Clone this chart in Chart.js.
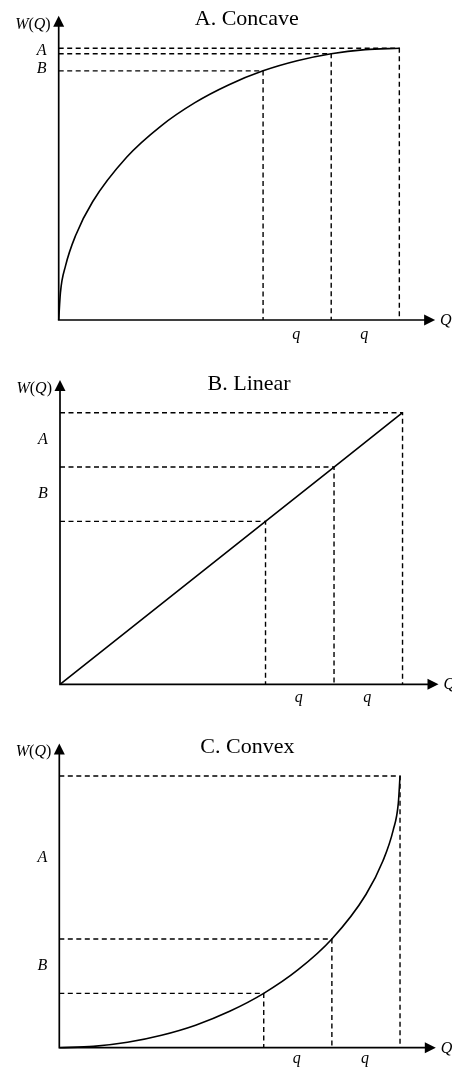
<!DOCTYPE html>
<html>
<head>
<meta charset="utf-8">
<title>W(Q) shapes</title>
<script src="https://cdn.jsdelivr.net/npm/chart.js@4.4.1/dist/chart.umd.min.js"></script>
<style>
  body { margin: 0; background: #fff; }
  .panel { position: absolute; left: 0; }
</style>
</head>
<body>
<canvas id="chartA" class="panel" width="452" height="356" style="top:0px"></canvas>
<canvas id="chartB" class="panel" width="452" height="356" style="top:356px"></canvas>
<canvas id="chartC" class="panel" width="452" height="356" style="top:712px"></canvas>
<script>
// Q values where the dashed guides are drawn
var qMarks = [6, 8, 10];

// A. Concave
var concaveQ = [0, 0.05, 0.2, 0.5, 1, 2, 3, 4, 5, 6, 7, 8, 9, 10];
var concaveW = [0, 1.0, 1.99, 3.12, 4.36, 6.0, 7.14, 8.0, 8.66, 9.17, 9.54, 9.8, 9.95, 10];

// B. Linear
var linearQ = [0, 6, 8, 10];
var linearW = [0, 6, 8, 10];

// C. Convex
var convexQ = [0, 1, 2, 3, 4, 5, 6, 7, 8, 9, 9.5, 9.8, 9.95, 10];
var convexW = [0, 0.05, 0.2, 0.46, 0.83, 1.34, 2.0, 2.86, 4.0, 5.64, 6.88, 8.01, 9.0, 10];

var titles = ["A. Concave", "B. Linear", "C. Convex"];
// where the A and B labels sit on the W axis
var labelAY = [9.9, 9, 7];
var labelBY = [9.26, 7, 3];

var panels = [
  { id: "chartA", Q: concaveQ, W: concaveW, pad: { left: 58.7, right: 16.9, top: 15.7, bottom: 36 }, qDy: 19 },
  { id: "chartB", Q: linearQ, W: linearW, pad: { left: 60, right: 13.5, top: 24.1, bottom: 27.7 }, qDy: 17.4 },
  { id: "chartC", Q: convexQ, W: convexW, pad: { left: 59.3, right: 16.2, top: 31.4, bottom: 20.3 }, qDy: 14.8 }
];

var serif = "'Liberation Serif', 'Times New Roman', serif";

var axesPlugin = {
  id: "axes",
  afterDatasetsDraw: function (chart, args, opts) {
    var ctx = chart.ctx;
    var xs = chart.scales.x;
    var ys = chart.scales.y;
    var ox = xs.getPixelForValue(0);
    var oy = ys.getPixelForValue(0);
    var right = xs.getPixelForValue(xs.max);
    var top = ys.getPixelForValue(ys.max);
    ctx.save();
    ctx.strokeStyle = "#000";
    ctx.fillStyle = "#000";
    ctx.lineWidth = 1.7;
    ctx.setLineDash([]);
    ctx.beginPath();
    ctx.moveTo(ox, top + 8);
    ctx.lineTo(ox, oy);
    ctx.lineTo(right - 8, oy);
    ctx.stroke();
    // arrow heads
    ctx.beginPath();
    ctx.moveTo(ox, top);
    ctx.lineTo(ox - 5.5, top + 11);
    ctx.lineTo(ox + 5.5, top + 11);
    ctx.closePath();
    ctx.fill();
    ctx.beginPath();
    ctx.moveTo(right, oy);
    ctx.lineTo(right - 11, oy - 5.5);
    ctx.lineTo(right - 11, oy + 5.5);
    ctx.closePath();
    ctx.fill();

    // title
    ctx.font = "22px " + serif;
    ctx.textAlign = "center";
    ctx.textBaseline = "alphabetic";
    ctx.fillText(opts.title, xs.getPixelForValue(5.52), ys.getPixelForValue(10.85));

    // W(Q)
    var parts = [["W", "italic "], ["(", ""], ["Q", "italic "], [")", ""]];
    var total = 0;
    parts.forEach(function (p) {
      ctx.font = p[1] + "16px " + serif;
      total += ctx.measureText(p[0]).width;
    });
    var px = ox - 8 - total;
    var wy = ys.getPixelForValue(10.72);
    ctx.textAlign = "left";
    parts.forEach(function (p) {
      ctx.font = p[1] + "16px " + serif;
      ctx.fillText(p[0], px, wy);
      px += ctx.measureText(p[0]).width;
    });

    // A / B
    ctx.font = "italic 16px " + serif;
    ctx.textAlign = "center";
    ctx.textBaseline = "middle";
    ctx.fillText("A", ox - 17, ys.getPixelForValue(opts.aY));
    ctx.fillText("B", ox - 17, ys.getPixelForValue(opts.bY));

    // q under each interval
    ctx.textBaseline = "alphabetic";
    for (var i = 0; i < qMarks.length - 1; i++) {
      var mid = (qMarks[i] + qMarks[i + 1]) / 2;
      ctx.fillText("q", xs.getPixelForValue(mid) - 1, oy + opts.qDy);
    }

    // Q at the end of the axis
    ctx.textAlign = "left";
    ctx.fillText("Q", right + 5, oy + 5);
    ctx.restore();
  }
};

panels.forEach(function (p, k) {
  var curve = p.Q.map(function (q, i) {
    return { x: q, y: p.W[i] };
  });
  var datasets = [
    {
      data: curve,
      borderColor: "#000",
      borderWidth: 1.6,
      pointRadius: 0,
      cubicInterpolationMode: "monotone",
      clip: false
    }
  ];
  qMarks.forEach(function (q) {
    var w = p.W[p.Q.indexOf(q)];
    datasets.push({
      data: [{ x: 0, y: w }, { x: q, y: w }, { x: q, y: 0 }],
      borderColor: "#000",
      borderWidth: 1.4,
      borderDash: [5, 3.5],
      pointRadius: 0,
      tension: 0,
      clip: false
    });
  });

  new Chart(document.getElementById(p.id), {
    type: "line",
    data: { datasets: datasets },
    options: {
      responsive: false,
      animation: false,
      devicePixelRatio: 1,
      layout: { padding: p.pad },
      scales: {
        x: { type: "linear", min: 0, max: 11.05, display: false },
        y: { type: "linear", min: 0, max: 11.2, display: false }
      },
      plugins: {
        legend: { display: false },
        tooltip: { enabled: false },
        axes: { title: titles[k], aY: labelAY[k], bY: labelBY[k], qDy: p.qDy }
      }
    },
    plugins: [axesPlugin]
  });
});
</script>
</body>
</html>
